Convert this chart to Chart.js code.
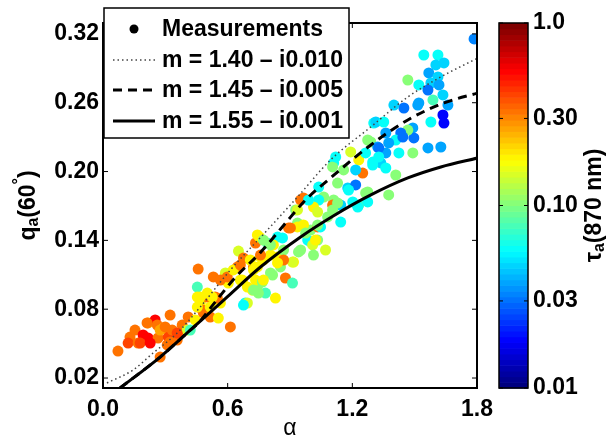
<!DOCTYPE html>
<html><head><meta charset="utf-8">
<script src="https://cdn.jsdelivr.net/npm/chart.js@4.4.0/dist/chart.umd.min.js"></script>
<style>html,body{margin:0;padding:0;background:#fff;}canvas{display:block;}</style>
</head><body>
<canvas id="c" width="613" height="440"></canvas>
<script>
// ---------- data ----------
const xTicks = [0.0, 0.6, 1.2, 1.8];
const yTicks = [0.02, 0.08, 0.14, 0.20, 0.26, 0.32];
const cbTicks = [0.01, 0.03, 0.10, 0.30, 1.0];
const cbTickLabels = ['0.01', '0.03', '0.10', '0.30', '1.0'];
const legendLabels = ['Measurements', 'm = 1.40 \u2013 i0.010', 'm = 1.45 \u2013 i0.005', 'm = 1.55 \u2013 i0.001'];

// measurements: Angstrom exponent, q_a(60°), tau_a(870 nm)
const alphaVals = [
 0.072,0.130,0.154,0.121,0.169,0.193,0.217,0.217,0.251,0.261,
 0.290,0.265,0.314,0.323,0.333,0.357,0.372,0.309,0.275,0.381,
 0.410,0.405,0.420,0.444,0.179,0.227,0.212,0.275,0.299,0.323,
 0.357,0.483,0.516,0.613,0.454,0.458,0.454,0.468,0.478,0.502,
 0.516,0.540,0.555,0.565,0.531,0.589,0.603,0.647,0.661,0.652,
 0.676,0.695,0.685,0.719,0.743,0.724,0.734,0.753,0.758,0.782,
 0.806,0.830,0.840,0.864,0.854,0.878,0.893,0.912,0.917,0.927,
 0.936,0.951,0.502,0.468,0.454,0.550,0.526,0.598,0.627,0.565,
 0.671,0.734,0.767,0.816,0.743,0.772,0.806,0.758,0.709,0.661,
 0.791,0.840,0.820,0.869,0.936,0.965,0.985,0.951,0.999,0.748,
 0.695,0.676,0.743,0.902,0.965,1.033,1.047,0.999,1.033,1.009,
 1.071,1.013,0.941,0.912,0.869,0.840,0.806,0.772,1.144,0.772,
 0.724,0.724,1.303,1.361,1.289,1.322,1.361,1.337,1.298,1.192,
 1.231,1.110,1.105,1.250,1.216,1.129,1.178,1.216,1.274,1.231,
 1.202,1.144,1.110,1.062,1.038,1.013,1.105,1.081,1.105,0.989,
 1.033,0.975,1.023,1.544,1.612,1.602,1.641,1.568,1.612,1.467,
 1.520,1.578,1.617,1.564,1.636,1.588,1.660,1.636,1.641,1.578,
 1.520,1.448,1.400,1.491,1.496,1.467,1.433,1.409,1.375,1.424,
 1.564,1.626,1.313,1.351,1.327,1.327,1.274,1.264,1.298,1.361,
 1.409,1.120,1.158,1.182,1.264,1.274,1.226,1.375,1.038,0.936,
 1.033,1.129,1.786,1.515,1.491,1.443];
const qaVals = [
 0.0435,0.0557,0.0618,0.0505,0.0505,0.0575,0.0549,0.0680,0.0706,0.0662,
 0.0636,0.0549,0.0557,0.0749,0.0618,0.0531,0.0592,0.0488,0.0383,0.0662,
 0.0732,0.0618,0.0618,0.0706,0.0505,0.0505,0.0680,0.0618,0.0645,0.0514,
 0.0592,0.0767,0.0732,0.0645,0.0993,0.1150,0.0906,0.0854,0.0793,0.0906,
 0.0819,0.0906,0.0723,0.0854,0.1081,0.1116,0.1028,0.1168,0.1054,0.1307,
 0.1246,0.0993,0.0854,0.0967,0.0993,0.1168,0.1377,0.1429,0.1255,0.0941,
 0.1116,0.0897,0.1255,0.1421,0.1168,0.1072,0.1508,0.1028,0.1211,0.1665,
 0.1551,0.1752,0.0941,0.0906,0.0819,0.0897,0.0906,0.1081,0.1142,0.1054,
 0.1054,0.1054,0.1037,0.1098,0.1168,0.1229,0.1272,0.1272,0.1229,0.1185,
 0.1377,0.1429,0.1360,0.1316,0.1517,0.1770,0.1403,0.1316,0.1490,0.0941,
 0.0854,0.0836,0.1447,0.1508,0.1534,0.1517,0.1517,0.1386,0.1403,0.1360,
 0.1316,0.1272,0.1299,0.1211,0.1229,0.1203,0.1360,0.1403,0.1560,0.1054,
 0.1142,0.0967,0.2423,0.2336,0.2258,0.2214,0.2162,0.2075,0.2083,0.2171,
 0.2101,0.2075,0.2040,0.1987,0.2014,0.1900,0.1857,0.1883,0.1822,0.1708,
 0.1735,0.1708,0.1752,0.1778,0.1752,0.1691,0.1708,0.1604,0.1665,0.1752,
 0.1647,0.1464,0.1403,0.3016,0.3016,0.2929,0.2947,0.2860,0.2825,0.2798,
 0.2755,0.2772,0.2755,0.2711,0.2668,0.2624,0.2580,0.2493,0.2423,0.2432,
 0.2598,0.2554,0.2580,0.2380,0.2293,0.2362,0.2336,0.2275,0.2249,0.2162,
 0.2206,0.2214,0.2432,0.2432,0.2206,0.2127,0.2275,0.2162,0.2057,0.2031,
 0.1970,0.2127,0.2014,0.1839,0.1813,0.1735,0.1691,0.1796,0.1865,0.1665,
 0.1534,0.1726,0.3156,0.2580,0.2162,0.2301];
const tauVals = [
 0.33,0.33,0.33,0.42,0.33,0.55,0.55,0.26,0.55,0.33,
 0.26,0.33,0.42,0.33,0.33,0.33,0.33,0.33,0.33,0.33,
 0.33,0.145,0.078,0.19,0.42,0.55,0.33,0.26,0.33,0.33,
 0.42,0.33,0.33,0.33,0.078,0.33,0.19,0.19,0.33,0.33,
 0.19,0.33,0.19,0.19,0.33,0.145,0.19,0.33,0.19,0.145,
 0.33,0.19,0.058,0.19,0.10,0.33,0.33,0.19,0.19,0.078,
 0.10,0.19,0.19,0.058,0.10,0.33,0.33,0.078,0.19,0.10,
 0.10,0.33,0.19,0.19,0.19,0.33,0.19,0.33,0.19,0.33,
 0.19,0.19,0.10,0.10,0.19,0.19,0.19,0.33,0.19,0.33,
 0.078,0.058,0.19,0.10,0.19,0.33,0.058,0.10,0.10,0.10,
 0.145,0.058,0.19,0.33,0.19,0.33,0.058,0.058,0.10,0.145,
 0.145,0.10,0.10,0.145,0.33,0.19,0.10,0.10,0.058,0.19,
 0.19,0.10,0.058,0.038,0.10,0.038,0.038,0.046,0.058,0.145,
 0.19,0.058,0.10,0.33,0.046,0.10,0.046,0.030,0.10,0.078,
 0.058,0.046,0.10,0.10,0.058,0.19,0.33,0.10,0.10,0.058,
 0.145,0.10,0.19,0.058,0.058,0.046,0.046,0.038,0.046,0.10,
 0.058,0.046,0.038,0.030,0.046,0.078,0.038,0.019,0.019,0.058,
 0.038,0.030,0.046,0.038,0.030,0.10,0.030,0.058,0.038,0.058,
 0.038,0.038,0.046,0.058,0.030,0.058,0.10,0.058,0.058,0.058,
 0.10,0.058,0.10,0.058,0.10,0.058,0.058,0.10,0.058,0.145,
 0.10,0.10,0.033,0.038,0.10,0.030];

// model curves
const m140Alpha = [0.019,0.145,0.241,0.357,0.468,0.613,0.791,0.936,1.095,1.289,1.467,1.626,1.805];
const m140Qa    = [0.0157,0.0270,0.0418,0.0592,0.0819,0.1142,0.1490,0.1778,0.2101,0.2389,0.2650,0.2825,0.2990];
const m145Alpha = [0.082,0.275,0.405,0.468,0.531,0.637,0.758,0.869,0.975,1.095,1.289,1.467,1.641,1.805];
const m145Qa    = [0.0113,0.0383,0.0593,0.0697,0.0842,0.1077,0.1295,0.1530,0.1752,0.1944,0.2232,0.2450,0.2598,0.2685];
const m155Alpha = [0.082,0.275,0.405,0.598,0.758,0.951,1.110,1.289,1.467,1.626,1.805];
const m155Qa    = [0.0113,0.0383,0.0593,0.0907,0.1168,0.1430,0.1615,0.1796,0.1944,0.2040,0.2119];

const X_MIN = 0, X_MAX = 1.8, Y_MIN = 0.0113, Y_MAX = 0.3295;
const TAU_MIN = 0.01, TAU_MAX = 1.0;

// ---------- helpers ----------
const FONT = "'Liberation Sans', Arial, Helvetica, sans-serif";
const FS = 23;
function jetRGB(t) {
  t = Math.max(0, Math.min(1, t));
  const c = v => Math.round(255 * Math.max(0, Math.min(1, v)));
  return [c(1.5 - Math.abs(4 * t - 3)), c(1.5 - Math.abs(4 * t - 2)), c(1.5 - Math.abs(4 * t - 1))];
}
function jetIndexColor(i) { const [r, g, b] = jetRGB(i / 63); return `rgb(${r},${g},${b})`; }
function tauColor(v) {
  const t = (Math.log10(v) - Math.log10(TAU_MIN)) / (Math.log10(TAU_MAX) - Math.log10(TAU_MIN));
  const idx = Math.max(0, Math.min(63, Math.floor(t * 64)));
  return jetIndexColor(idx);
}
const pts = (xs, ys) => xs.map((x, i) => ({ x: x, y: ys[i] }));

function richText(ctx, pieces, cx, cy, rotate) {
  ctx.save();
  ctx.translate(cx, cy);
  if (rotate) ctx.rotate(-Math.PI / 2);
  let total = 0;
  pieces.forEach(p => { ctx.font = p.font; total += ctx.measureText(p.t).width; });
  let x = -total / 2;
  ctx.textBaseline = 'middle';
  ctx.textAlign = 'left';
  pieces.forEach(p => { ctx.font = p.font; ctx.fillText(p.t, x, p.dy || 0); x += ctx.measureText(p.t).width; });
  ctx.restore();
}

// ---------- overlay plugin ----------
const overlay = {
  id: 'overlay',
  afterDraw(chart) {
    const { ctx, chartArea: ca, scales } = chart;
    ctx.save();
    ctx.fillStyle = '#000';
    ctx.strokeStyle = '#000';
    const seg = (x1, y1, x2, y2) => { ctx.beginPath(); ctx.moveTo(x1, y1); ctx.lineTo(x2, y2); ctx.stroke(); };
    // axes box
    ctx.lineWidth = 2;
    ctx.strokeRect(ca.left, ca.top, ca.right - ca.left, ca.bottom - ca.top);
    // inward ticks
    ctx.lineWidth = 1;
    const tl = 5;
    xTicks.forEach(v => { const x = scales.x.getPixelForValue(v); seg(x, ca.bottom, x, ca.bottom - tl); seg(x, ca.top, x, ca.top + tl); });
    yTicks.forEach(v => { const y = scales.y.getPixelForValue(v); seg(ca.left, y, ca.left + tl, y); seg(ca.right, y, ca.right - tl, y); });

    // colorbar
    const cb = scales.cb;
    const cbL = ca.right + 22, cbW = 29;
    let cTop = cb.getPixelForValue(TAU_MAX), cBot = cb.getPixelForValue(TAU_MIN);
    if (!isFinite(cTop) || !isFinite(cBot)) { cTop = ca.top; cBot = ca.bottom; }
    const h = cBot - cTop;
    for (let i = 0; i < 64; i++) {
      const y1 = cBot - (i / 64) * h, y2 = cBot - ((i + 1) / 64) * h;
      ctx.fillStyle = jetIndexColor(i);
      ctx.fillRect(cbL, y2, cbW, y1 - y2 + 0.6);
    }
    ctx.lineWidth = 1.5;
    ctx.strokeStyle = '#000';
    ctx.strokeRect(cbL, cTop, cbW, h);
    ctx.lineWidth = 1;
    ctx.fillStyle = '#000';
    ctx.font = `bold ${FS}px ${FONT}`;
    ctx.textAlign = 'left';
    ctx.textBaseline = 'middle';
    cbTicks.forEach((v, i) => {
      let y = cb.getPixelForValue(v);
      if (!isFinite(y)) y = cBot - (Math.log10(v) + 2) / 2 * h;
      seg(cbL, y, cbL + 4, y); seg(cbL + cbW, y, cbL + cbW - 4, y);
      ctx.fillText(cbTickLabels[i], cbL + cbW + 5, y);
    });

    // axis titles
    const B = s => `bold ${s}px ${FONT}`;
    ctx.fillStyle = '#000';
    richText(ctx, [
      { t: 'q', font: B(23) }, { t: 'a', font: B(16), dy: 5 },
      { t: '(60', font: B(23) }, { t: '\u00B0', font: B(16), dy: -9 }, { t: ')', font: B(23) }
    ], 29, (ca.top + ca.bottom) / 2, true);
    richText(ctx, [
      { t: '\u03C4', font: B(23) }, { t: 'a', font: B(16), dy: 5 }, { t: '(870 nm)', font: B(23) }
    ], 595, (ca.top + ca.bottom) / 2, true);
    richText(ctx, [{ t: '\u03B1', font: `23px ${FONT}` }], (ca.left + ca.right) / 2, 429, false);

    // legend
    const lx = ca.left + 1, ly = ca.top - 15, lw = 245, lh = 130;
    ctx.fillStyle = '#fff';
    ctx.fillRect(lx, ly, lw, lh);
    ctx.lineWidth = 1.5;
    ctx.strokeStyle = '#000';
    ctx.strokeRect(lx, ly, lw, lh);
    const rows = [ly + 21, ly + 52, ly + 82, ly + 113];
    const sx1 = lx + 9, sx2 = lx + 51;
    ctx.fillStyle = '#000';
    ctx.beginPath(); ctx.arc((sx1 + sx2) / 2, rows[0], 4.5, 0, Math.PI * 2); ctx.fill();
    ctx.strokeStyle = '#444'; ctx.lineWidth = 1.5; ctx.setLineDash([1.5, 3]); seg(sx1, rows[1], sx2, rows[1]);
    ctx.strokeStyle = '#000'; ctx.lineWidth = 3; ctx.setLineDash([9, 6]); seg(sx1, rows[2], sx2, rows[2]);
    ctx.setLineDash([]); seg(sx1, rows[3], sx2, rows[3]);
    ctx.font = `bold ${FS}px ${FONT}`;
    ctx.textAlign = 'left';
    ctx.textBaseline = 'middle';
    legendLabels.forEach((t, i) => ctx.fillText(t, lx + 58, rows[i] + 1));
    ctx.restore();
  }
};

// ---------- chart ----------
const tickFont = { family: FONT, size: FS, weight: 'bold' };
new Chart(document.getElementById('c'), {
  type: 'scatter',
  data: {
    datasets: [
      { type: 'line', label: legendLabels[1], data: pts(m140Alpha, m140Qa), borderColor: '#444', borderWidth: 1.5,
        borderDash: [1.5, 3], pointRadius: 0, fill: false, cubicInterpolationMode: 'monotone', order: 1 },
      { type: 'line', label: legendLabels[2], data: pts(m145Alpha, m145Qa), borderColor: '#000', borderWidth: 3,
        borderDash: [9, 6], pointRadius: 0, fill: false, cubicInterpolationMode: 'monotone', order: 1 },
      { type: 'line', label: legendLabels[3], data: pts(m155Alpha, m155Qa), borderColor: '#000', borderWidth: 3,
        pointRadius: 0, fill: false, cubicInterpolationMode: 'monotone', order: 1 },
      { type: 'scatter', label: legendLabels[0], data: pts(alphaVals, qaVals),
        backgroundColor: tauVals.map(tauColor), borderWidth: 0, pointRadius: 5.5, pointHoverRadius: 5.5, order: 2 }
    ]
  },
  options: {
    responsive: false,
    animation: false,
    devicePixelRatio: 1,
    layout: { padding: { left: 0, right: 136, top: 23, bottom: 0 } },
    plugins: { legend: { display: false }, tooltip: { enabled: false } },
    scales: {
      x: {
        type: 'linear', min: X_MIN, max: X_MAX,
        grid: { display: false, drawTicks: false }, border: { display: false },
        afterBuildTicks: s => { s.ticks = xTicks.map(v => ({ value: v })); },
        afterFit: s => { s.height = 52; },
        ticks: { color: '#000', font: tickFont, padding: 8, maxRotation: 0, autoSkip: false,
                 callback: v => Number(v).toFixed(1) }
      },
      y: {
        type: 'linear', min: Y_MIN, max: Y_MAX,
        grid: { display: false, drawTicks: false }, border: { display: false },
        afterBuildTicks: s => { s.ticks = yTicks.map(v => ({ value: v })); },
        afterFit: s => { s.width = 103; },
        ticks: { color: '#000', font: tickFont, padding: 4, autoSkip: false,
                 callback: v => Number(v).toFixed(2) }
      },
      cb: { type: 'logarithmic', axis: 'y', position: 'right', display: false, min: TAU_MIN, max: TAU_MAX }
    }
  },
  plugins: [overlay]
});
</script>
</body></html>
